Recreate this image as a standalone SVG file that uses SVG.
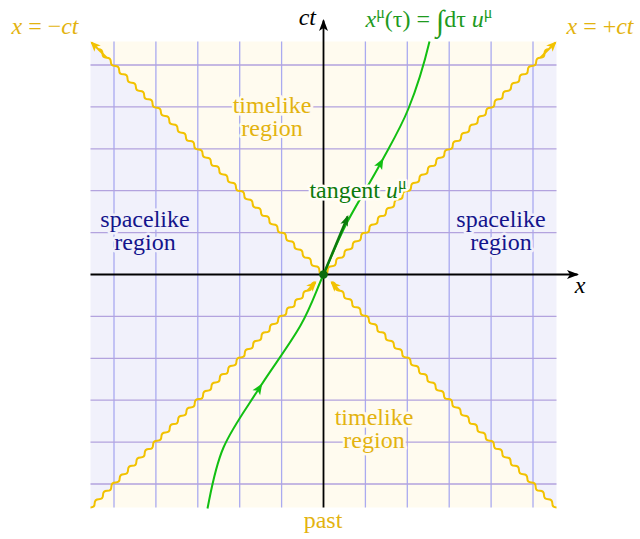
<svg xmlns="http://www.w3.org/2000/svg" xmlns:xlink="http://www.w3.org/1999/xlink" width="640" height="539" viewBox="0 0 640 539">
<style>
text{font-family:"Liberation Serif","DejaVu Serif",serif;font-size:24px;text-anchor:middle}
.it{font-style:italic}
.gold{fill:#e3b30f}
.navy{fill:#14148c}
.vg{stroke:#aaaaf0;stroke-width:1.3;fill:none}
.hg{stroke:#b3a3de;stroke-width:1.3;fill:none}
.wave{fill:none;stroke:#f2c200;stroke-width:2;stroke-linejoin:round}
.haloT{paint-order:stroke;stroke:#fffbef;stroke-width:5;stroke-linejoin:round}
.haloS{paint-order:stroke;stroke:#f1f1fb;stroke-width:5;stroke-linejoin:round}
.axis{stroke:#000;stroke-width:1.8;fill:none}
</style>
<defs>
<marker id="ya" markerUnits="userSpaceOnUse" viewBox="0 0 10 9" markerWidth="10" markerHeight="9" refX="8.5" refY="4.5" orient="auto"><path d="M0,0 L10,4.5 L0,9 L2.5,4.5 z" fill="#f2c200"/></marker>
<marker id="ba" markerUnits="userSpaceOnUse" viewBox="0 0 12 9" markerWidth="12" markerHeight="9" refX="10.5" refY="4.5" orient="auto"><path d="M0,0 L12,4.5 L0,9 L3,4.5 z" fill="#000"/></marker>
<marker id="ta" markerUnits="userSpaceOnUse" viewBox="0 0 11 8" markerWidth="11" markerHeight="8" refX="9.5" refY="4" orient="auto"><path d="M0,0 L11,4 L0,8 L2.5,4 z" fill="#0b7b0b"/></marker>
<path id="ga" d="M6,0 L-5,-4.5 L-2.5,0 L-5,4.5 z" fill="#12bf12"/>
<path id="wv" class="wave" d="M0,0 c3,0 4.17,-1.17 4.17,-4.17s1.17,-4.17 4.17,-4.17s4.17,-1.17 4.17,-4.17s1.17,-4.17 4.17,-4.17s4.17,-1.17 4.17,-4.17s1.17,-4.17 4.17,-4.17s4.17,-1.17 4.17,-4.17s1.17,-4.17 4.17,-4.17s4.17,-1.17 4.17,-4.17s1.17,-4.17 4.17,-4.17s4.17,-1.17 4.17,-4.17s1.17,-4.17 4.17,-4.17s4.17,-1.17 4.17,-4.17s1.17,-4.17 4.17,-4.17s4.17,-1.17 4.17,-4.17s1.17,-4.17 4.17,-4.17s4.17,-1.17 4.17,-4.17s1.17,-4.17 4.17,-4.17s4.17,-1.17 4.17,-4.17s1.17,-4.17 4.17,-4.17s4.17,-1.17 4.17,-4.17s1.17,-4.17 4.17,-4.17s4.17,-1.17 4.17,-4.17s1.17,-4.17 4.17,-4.17s4.17,-1.17 4.17,-4.17s1.17,-4.17 4.17,-4.17s4.17,-1.17 4.17,-4.17s1.17,-4.17 4.17,-4.17s4.17,-1.17 4.17,-4.17s1.17,-4.17 4.17,-4.17s4.17,-1.17 4.17,-4.17s1.17,-4.17 4.17,-4.17s4.17,-1.17 4.17,-4.17s1.17,-4.17 4.17,-4.17s4.17,-1.17 4.17,-4.17s1.17,-4.17 4.17,-4.17s4.17,-1.17 4.17,-4.17s1.17,-4.17 4.17,-4.17s4.17,-1.17 4.17,-4.17s1.17,-4.17 4.17,-4.17s4.17,-1.17 4.17,-4.17s1.17,-4.17 4.17,-4.17s4.17,-1.17 4.17,-4.17s1.17,-4.17 4.17,-4.17s4.17,-1.17 4.17,-4.17s1.17,-4.17 4.17,-4.17s4.17,-1.17 4.17,-4.17s1.17,-4.17 4.17,-4.17s4.17,-1.17 4.17,-4.17s1.17,-4.17 4.17,-4.17s4.17,-1.17 4.17,-4.17s1.17,-4.17 4.17,-4.17s4.17,-1.17 4.17,-4.17s1.17,-4.17 4.17,-4.17"/>
</defs>

<g id="regions">
<polygon points="90.5,41.5 556.5,41.5 323.5,274.5" fill="#fffbef"/>
<polygon points="90.5,507.5 556.5,507.5 323.5,274.5" fill="#fffbef"/>
<polygon points="90.5,41.5 90.5,507.5 323.5,274.5" fill="#f1f1fb"/>
<polygon points="556.5,41.5 556.5,507.5 323.5,274.5" fill="#f1f1fb"/>
</g>

<g id="grid">
<path class="vg" d="M114,41.5V507.5M155.9,41.5V507.5M197.8,41.5V507.5M239.7,41.5V507.5M281.6,41.5V507.5M365.4,41.5V507.5M407.3,41.5V507.5M449.2,41.5V507.5M491.1,41.5V507.5M533,41.5V507.5"/>
<path class="hg" d="M90.5,65H556.5M90.5,106.9H556.5M90.5,148.8H556.5M90.5,190.7H556.5M90.5,232.6H556.5M90.5,316.4H556.5M90.5,358.3H556.5M90.5,400.2H556.5M90.5,442.1H556.5M90.5,484H556.5"/>
</g>

<g id="light-cone">
<use xlink:href="#wv" href="#wv" transform="translate(323.5,274.5)"/>
<path class="wave" d="M540.34,57.66 l15.1,-15.1" marker-end="url(#ya)"/>
<use xlink:href="#wv" href="#wv" transform="translate(323.5,274.5) scale(-1,1)"/>
<path class="wave" d="M106.66,57.66 l-15.1,-15.1" marker-end="url(#ya)"/>
<use xlink:href="#wv" href="#wv" transform="translate(90.5,507.5)"/>
<path class="wave" d="M307.34,290.66 l8.1,-8.1" marker-end="url(#ya)"/>
<use xlink:href="#wv" href="#wv" transform="translate(556.5,507.5) scale(-1,1)"/>
<path class="wave" d="M339.66,290.66 l-8.1,-8.1" marker-end="url(#ya)"/>
</g>

<g id="axes">
<path class="axis" d="M90.5,274.5 H577.5" marker-end="url(#ba)"/>
<path class="axis" d="M323.5,507.5 V20.5" marker-end="url(#ba)"/>
</g>

<g id="worldline">
<path transform="translate(0.5,0.5)" d="M207,508 C211,488 214.4,467 223,447 C231.6,427 245.7,408.3 258.5,388 C271.3,367.7 289.25,344 300,325 C310.75,306 315.3,291 323,274 C330.7,257 336.5,241.5 346,223 C355.5,204.5 369.7,182.2 380,163 C390.3,143.8 399.8,128.3 408,108 C416.2,87.7 424,62 429,41" fill="none" stroke="#12bf12" stroke-width="2"/>
<use xlink:href="#ga" href="#ga" transform="translate(259,388.5) rotate(-57.7)"/>
<use xlink:href="#ga" href="#ga" transform="translate(380.5,163.5) rotate(-61.7)"/>
</g>

<g id="tangent">
<path d="M323.5,274.5 L347.7,216.4" stroke="#0b7b0b" stroke-width="2.5" fill="none" marker-end="url(#ta)"/>
</g>

<g id="event">
<circle cx="323.5" cy="274.5" r="4.3" fill="#0b6b0b"/>
</g>

<g id="labels">
<text class="gold haloT" x="272" y="113">timelike<tspan x="272" dy="23">region</tspan></text>
<text class="gold haloT" x="374" y="425">timelike<tspan x="374" dy="23">region</tspan></text>
<text class="navy haloS" x="145" y="227">spacelike<tspan x="145" dy="23">region</tspan></text>
<text class="navy haloS" x="501" y="227">spacelike<tspan x="501" dy="23">region</tspan></text>
<text class="gold" x="323" y="528">past</text>
<text class="gold" x="45" y="34"><tspan class="it">x</tspan> = −<tspan class="it">ct</tspan></text>
<text class="gold" x="600" y="33.5"><tspan class="it">x</tspan> = +<tspan class="it">ct</tspan></text>
<text class="it" x="316" y="25" style="text-anchor:end" fill="#000">ct</text>
<text class="it" x="580" y="293" fill="#000">x</text>
<text x="429" y="26.5" fill="#1e9a1e"><tspan class="it">x</tspan><tspan font-size="16" dy="-9">μ</tspan><tspan dy="9">(τ) = </tspan><tspan font-size="30" dy="4">∫</tspan><tspan dy="-4">dτ </tspan><tspan class="it">u</tspan><tspan font-size="16" dy="-9">μ</tspan></text>
<text x="358" y="198" fill="#0c7a0c" style="paint-order:stroke;stroke:#fffdf6;stroke-width:5;stroke-linejoin:round">tangent <tspan class="it">u</tspan><tspan font-size="16" dy="-9">μ</tspan></text>
</g>
</svg>
